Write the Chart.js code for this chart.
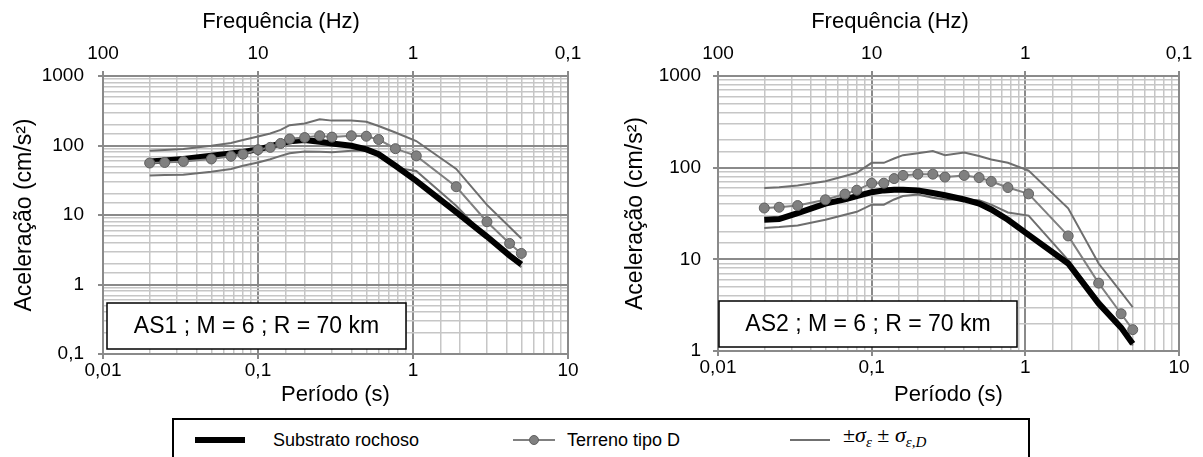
<!DOCTYPE html>
<html>
<head>
<meta charset="utf-8">
<script src="https://cdn.jsdelivr.net/npm/chart.js@4.4.1/dist/chart.umd.min.js"></script>
<style>
body { margin: 0; width: 1203px; height: 457px; background: #fff; position: relative; overflow: hidden; font-family: 'Liberation Sans', Arial, sans-serif; }
#c1 { position: absolute; left: 0; top: 0; }
#c2 { position: absolute; left: 600px; top: 0; }
#legend { position: absolute; left: 172px; top: 418px; width: 858px; height: 50px; border: 2px solid #000; box-sizing: border-box; background: #fff; }
#legend .item { position: absolute; top: 9px; font-size: 18px; line-height: 22px; color: #000; }
#legend .line { position: absolute; }
#legend .dot { position: absolute; width: 10px; height: 10px; border-radius: 50%; background: #808080; border: 1px solid #606060; box-sizing: border-box; }
#legend .math { font-family: 'Liberation Serif', 'DejaVu Serif', serif; font-size: 22px; white-space: nowrap; }
#legend sub { font-size: 15px; }
</style>
</head>
<body>
<canvas id="c1" width="600" height="410"></canvas>
<canvas id="c2" width="603" height="410"></canvas>
<div id="legend">
  <div class="line" style="left:21px;top:17px;width:50px;height:6px;background:#000;"></div>
  <div class="item" style="left:99px;">Substrato rochoso</div>
  <div class="line" style="left:339px;top:19px;width:42px;height:2px;background:#808080;"></div>
  <div class="dot" style="left:355px;top:15px;"></div>
  <div class="item" style="left:393px;">Terreno tipo D</div>
  <div class="line" style="left:616px;top:19px;width:40px;height:2px;background:#707070;"></div>
  <div class="item math" style="left:669px;top:4px;">±<i>σ</i><sub><i>ε</i></sub> ± <i>σ</i><sub><i>ε,D</i></sub></div>
</div>
<script>
// Periods (s)
const periods = [0.02, 0.025, 0.033, 0.05, 0.067, 0.08, 0.1, 0.12, 0.14, 0.16, 0.2, 0.25, 0.3, 0.4, 0.5, 0.6, 0.77, 1.05, 1.9, 3, 4.2, 5];

// AS1 (left chart)
const as1Rock = [59, 61, 64, 71, 77, 81, 88, 97, 107, 115, 120, 113, 107, 99, 88, 75, 51, 31, 11, 4.9, 2.6, 1.95];
const as1D = [56, 57, 59, 64, 70, 75, 87, 94, 107, 124, 130, 138, 132, 138, 136, 122, 90, 71, 25.5, 8, 3.9, 2.8];
const as1Up = [84, 86, 89, 99, 109, 120, 135, 149, 168, 196, 207, 239, 228, 228, 220, 191, 154, 116, 46, 14, 6.7, 4.6];
const as1Low = [37, 37.5, 38, 42, 46, 51, 57, 63.5, 71, 77.5, 82, 81, 80, 84, 85, 72, 48, 43, 13.6, 4.7, 2.5, 1.77];

// AS2 (right chart)
const as2Rock = [27, 27.5, 32, 40.5, 45, 49, 54, 56.5, 57.5, 57.5, 56.5, 53, 50, 45, 40.5, 35, 27, 18.5, 9.0, 3.3, 1.8, 1.2];
const as2D = [36.3, 37, 38.6, 44.6, 51.5, 56.8, 67.7, 67.7, 76, 82.3, 85, 85, 79, 82.3, 78, 70.7, 60.7, 51.8, 18, 5.5, 2.55, 1.71];
const as2Up = [60, 61, 64, 71, 81, 88, 113, 113, 126, 137, 144, 152, 137, 146, 134, 123, 113, 93, 36, 9, 4.4, 3.0];
const as2Low = [22, 22.5, 23.4, 27, 30.7, 33, 39.5, 39.5, 45, 49, 51, 47, 45, 45, 44, 39.5, 32.5, 30, 9.8, 3.6, 1.9, 1.15];

// Axis labels
const periodTicks = [0.01, 0.1, 1, 10];
const freqTicks = [100, 10, 1, 0.1];
const accTicks1 = [0.1, 1, 10, 100, 1000];
const accTicks2 = [1, 10, 100, 1000];

const FONT = "'Liberation Sans', Arial, sans-serif";

function isMajor(v) {
    const l = Math.log10(v);
    return Math.abs(l - Math.round(l)) < 1e-6;
}

function fmt(v) {
    return String(v).replace('.', ',');
}

function labelIf(list) {
    return function (value) {
        return list.some(t => Math.abs(t - value) / t < 1e-6) ? fmt(value) : '';
    };
}

function pts(ys) {
    return periods.map((p, i) => ({ x: p, y: ys[i] }));
}

// Right border of the plot, the frequency title and the annotation box
const framePlugin = {
    id: 'frame',
    afterDatasetsDraw(chart, args, opts) {
        const ctx = chart.ctx;
        const a = chart.chartArea;
        ctx.save();
        ctx.strokeStyle = '#8a8a8a';
        ctx.lineWidth = 2;
        ctx.beginPath();
        ctx.moveTo(a.right, a.top);
        ctx.lineTo(a.right, a.bottom);
        ctx.stroke();

        ctx.fillStyle = '#000';
        ctx.font = '22px ' + FONT;
        ctx.textAlign = 'center';
        ctx.textBaseline = 'middle';
        ctx.fillText('Frequência (Hz)', opts.freqX, 22);

        // annotation box
        const b = opts.box;
        ctx.fillStyle = '#fff';
        ctx.fillRect(b.x, b.y, b.w, b.h);
        ctx.strokeStyle = '#000';
        ctx.lineWidth = 1.5;
        ctx.strokeRect(b.x, b.y, b.w, b.h);
        ctx.fillStyle = '#000';
        ctx.font = '23px ' + FONT;
        ctx.fillText(b.text, b.x + b.w / 2, b.y + b.h / 2 + 1);
        ctx.restore();
    }
};

function makeChart(id, rock, d, up, low, yMin, yTicks, geo) {
    const gridColor = ctx => (ctx.tick && isMajor(ctx.tick.value)) ? '#8a8a8a' : '#c6c6c6';
    const gridWidth = ctx => (ctx.tick && isMajor(ctx.tick.value)) ? 2 : 1.5;
    const tickColor = ctx => (ctx.tick && isMajor(ctx.tick.value)) ? '#8a8a8a' : 'rgba(0,0,0,0)';

    new Chart(document.getElementById(id), {
        type: 'line',
        data: {
            datasets: [
                {
                    label: 'Terreno tipo D',
                    data: pts(d),
                    borderColor: '#808080',
                    borderWidth: 2,
                    pointRadius: 5,
                    pointBackgroundColor: '#808080',
                    pointBorderColor: '#606060',
                    pointBorderWidth: 1,
                    tension: 0,
                },
                {
                    label: 'Substrato rochoso',
                    data: pts(rock),
                    borderColor: '#000',
                    borderWidth: 6,
                    pointRadius: 0,
                    tension: 0,
                },
                {
                    label: '+σ',
                    data: pts(up),
                    borderColor: '#6e6e6e',
                    borderWidth: 2,
                    pointRadius: 0,
                    tension: 0,
                },
                {
                    label: '-σ',
                    data: pts(low),
                    borderColor: '#6e6e6e',
                    borderWidth: 2,
                    pointRadius: 0,
                    tension: 0,
                },
            ],
        },
        options: {
            responsive: false,
            animation: false,
            devicePixelRatio: 1,
            layout: { padding: { left: 0, right: geo.right, top: 0, bottom: 0 } },
            plugins: {
                legend: { display: false },
                tooltip: { enabled: false },
                frame: { box: geo.box, freqX: geo.freqX },
            },
            scales: {
                x: {
                    type: 'logarithmic',
                    position: 'bottom',
                    min: 0.01,
                    max: 10,
                    afterFit: s => { s.height = geo.bottomH; },
                    grid: { color: gridColor, lineWidth: gridWidth, tickColor: tickColor, tickLength: 5 },
                    border: { color: '#8a8a8a', width: 2 },
                    ticks: {
                        autoSkip: false,
                        maxRotation: 0,
                        padding: 0,
                        color: '#000',
                        font: { family: FONT, size: 19 },
                        callback: labelIf(periodTicks),
                    },
                    title: {
                        display: true,
                        text: 'Período (s)',
                        color: '#000',
                        font: { family: FONT, size: 22 },
                        padding: { top: 0, bottom: 2 },
                    },
                },
                x2: {
                    type: 'logarithmic',
                    position: 'top',
                    reverse: true,
                    min: 0.1,
                    max: 100,
                    afterFit: s => { s.height = 76; },
                    grid: { drawOnChartArea: false, tickColor: tickColor, tickLength: 5, lineWidth: 2 },
                    border: { color: '#8a8a8a', width: 2 },
                    ticks: {
                        autoSkip: false,
                        maxRotation: 0,
                        padding: 6,
                        color: '#000',
                        font: { family: FONT, size: 19 },
                        callback: labelIf(freqTicks),
                    },
                },
                y: {
                    type: 'logarithmic',
                    min: yMin,
                    max: 1000,
                    afterFit: s => { s.width = geo.leftW; },
                    grid: { color: gridColor, lineWidth: gridWidth, tickColor: tickColor, tickLength: 5 },
                    border: { color: '#8a8a8a', width: 2 },
                    ticks: {
                        autoSkip: false,
                        padding: geo.yPad,
                        color: '#000',
                        font: { family: FONT, size: 19 },
                        callback: labelIf(yTicks),
                    },
                    title: {
                        display: true,
                        text: 'Aceleração (cm/s²)',
                        color: '#000',
                        font: { family: FONT, size: 23 },
                        padding: { top: geo.yTitlePad, bottom: 0 },
                    },
                },
            },
        },
        plugins: [framePlugin],
    });
}

makeChart('c1', as1Rock, as1D, as1Up, as1Low, 0.1, accTicks1, {
    right: 32, bottomH: 56, leftW: 103, yPad: 14, yTitlePad: 11, freqX: 281,
    box: { x: 107, y: 303, w: 299, h: 46, text: 'AS1 ; M = 6 ; R = 70 km' },
});

makeChart('c2', as2Rock, as2D, as2Up, as2Low, 1, accTicks2, {
    right: 24, bottomH: 59, leftW: 118, yPad: 12, yTitlePad: 22, freqX: 290,
    box: { x: 119, y: 301, w: 298, h: 46, text: 'AS2 ; M = 6 ; R = 70 km' },
});
</script>
</body>
</html>
